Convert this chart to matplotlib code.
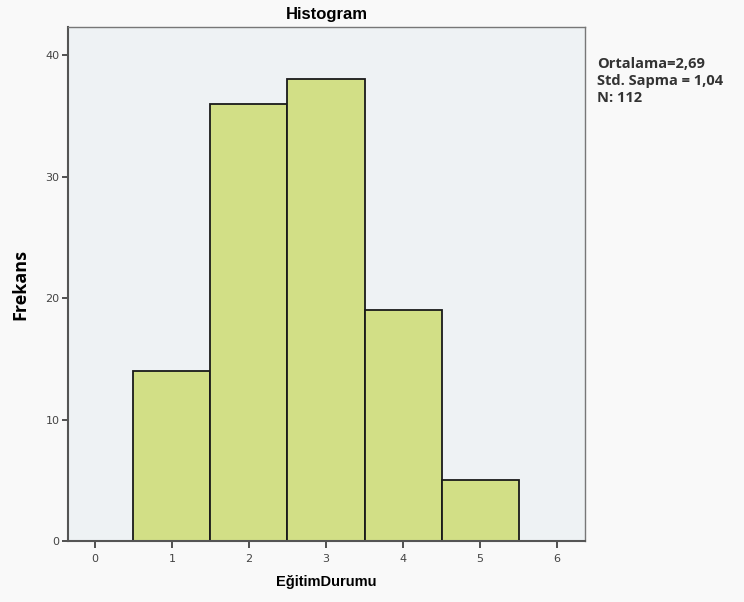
import matplotlib
matplotlib.use("Agg")
import matplotlib.pyplot as plt

# Frequency counts per education level
levels = [1, 2, 3, 4, 5]
counts = [14, 36, 38, 19, 5]
xticks = [0, 1, 2, 3, 4, 5, 6]
yticks = [0, 10, 20, 30, 40]
stats_lines = ["Ortalama=2,69", "Std. Sapma = 1,04", "N: 112"]

fig = plt.figure(figsize=(7.44, 6.02), dpi=100, facecolor="#f9f9f9")
ax = fig.add_axes([0.0914, 0.1013, 0.6946, 0.8537])
ax.set_facecolor("#eef2f4")

ax.bar(levels, counts, width=1.0, color="#d2df86", edgecolor="#1a1a1a",
       linewidth=1.3, zorder=2)

ax.set_xlim(-0.35, 6.36)
ax.set_ylim(0, 42.3)
ax.set_xticks(xticks)
ax.set_yticks(yticks)
ax.tick_params(axis="both", direction="out", labelsize=8, colors="#333333",
               labelcolor="#444444", width=1.2)
ax.tick_params(axis="x", length=5, pad=4)
ax.tick_params(axis="y", length=4, pad=2)

for side in ["left", "bottom"]:
    ax.spines[side].set_color("#555555")
    ax.spines[side].set_linewidth(1.5)
for side in ["top", "right"]:
    ax.spines[side].set_color("#777777")
    ax.spines[side].set_linewidth(1.0)

ax.set_title("Histogram", fontsize=12, fontweight="bold",
             family="Liberation Sans", pad=6)
ax.set_xlabel("EğitimDurumu", fontsize=10.5, fontweight="bold",
              family="Liberation Sans", labelpad=8)
ax.set_ylabel("Frekans", fontsize=13, fontweight="bold",
              family="Open Sans", labelpad=12)

fig.text(597 / 744, 1 - 81 / 602, "\n".join(stats_lines), fontsize=10.5,
         fontweight="bold", family="Open Sans", color="#333333",
         va="center", ha="left", linespacing=1.3)

fig.savefig("out.png", dpi=100, facecolor=fig.get_facecolor())
